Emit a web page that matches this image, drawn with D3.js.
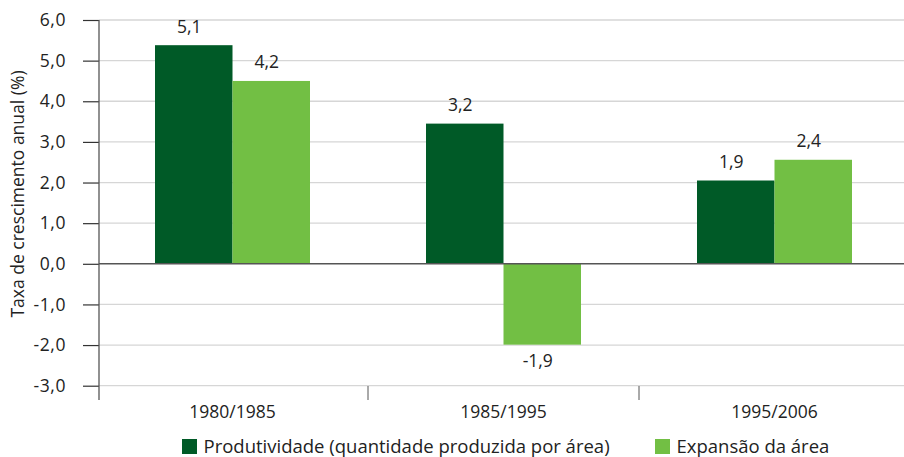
<!DOCTYPE html>
<html><head><meta charset="utf-8">
<script src="https://cdn.jsdelivr.net/npm/d3@7"></script>
<style>body{margin:0;background:#fff}svg{display:block}text{font-family:"Open Sans",sans-serif;fill:#222}</style>
</head><body><svg id="c" width="904" height="457"></svg>
<script>
const categories = ["1980/1985", "1985/1995", "1995/2006"];
const seriesNames = ["Produtividade (quantidade produzida por área)", "Expansão da área"];
const produtividade = [5.38, 3.45, 2.05];
const expansao = [4.50, -1.99, 2.56];
const produtividadeLabels = ["5,1", "3,2", "1,9"];
const expansaoLabels = ["4,2", "-1,9", "2,4"];
const yTicks = [6, 5, 4, 3, 2, 1, 0, -1, -2, -3];
const yTitle = "Taxa de crescimento anual (%)";
const colors = ["#005a27", "#72bf44"];

const svg = d3.select("#c");
const y = d3.scaleLinear().domain([-3, 6]).range([385.7, 20]);
const x = d3.scaleBand().domain(categories).range([97, 910]).paddingInner(0).paddingOuter(0);
const xs = d3.scaleBand().domain([0, 1]).range([0, 155]);
const x0 = 99;

// gridlines
svg.append("g").selectAll("line").data(yTicks.filter(d => d !== 0)).join("line")
  .attr("x1", x0).attr("x2", 904).attr("y1", d => y(d)).attr("y2", d => y(d))
  .attr("stroke", "#d6d6d6").attr("stroke-width", 1.3);

// y axis
const yAxis = d3.axisLeft(y).tickValues(yTicks).tickSize(16).tickPadding(17)
  .tickFormat(d => d3.format(".1f")(d).replace(".", ",").replace("−", "-"));
const gy = svg.append("g").attr("transform", `translate(${x0},0)`).call(yAxis);
gy.select(".domain").remove();
gy.selectAll(".tick line").attr("stroke", "#333").attr("stroke-width", 1.2);
gy.selectAll(".tick text").attr("font-size", 17.5).attr("letter-spacing", 0.6).attr("fill", "#222").attr("font-family", '"Open Sans",sans-serif');
svg.append("line").attr("x1", x0).attr("x2", x0).attr("y1", 20).attr("y2", 400)
  .attr("stroke", "#555").attr("stroke-width", 1.3);

// bars
const groups = categories.map((c, i) => ({c, vals: [produtividade[i], expansao[i]], labels: [produtividadeLabels[i], expansaoLabels[i]]}));
const g = svg.append("g").selectAll("g").data(groups).join("g")
  .attr("transform", d => `translate(${x(d.c) + (x.bandwidth() - 155) / 2},0)`);
g.selectAll("rect").data(d => d.vals.map((v, k) => ({v, k}))).join("rect")
  .attr("x", d => xs(d.k)).attr("width", xs.bandwidth())
  .attr("y", d => y(Math.max(0, d.v))).attr("height", d => Math.abs(y(d.v) - y(0)))
  .attr("fill", d => colors[d.k]);
g.selectAll("text").data(d => d.vals.map((v, k) => ({v, k, l: d.labels[k]}))).join("text")
  .attr("x", d => xs(d.k) + xs.bandwidth() / 2 - 4.5)
  .attr("y", d => d.v >= 0 ? y(d.v) - 12.5 : y(d.v) + 22)
  .attr("text-anchor", "middle").attr("font-size", 17.5).text(d => d.l);

// zero line
svg.append("line").attr("x1", x0).attr("x2", 904).attr("y1", y(0)).attr("y2", y(0))
  .attr("stroke", "#555").attr("stroke-width", 1.5);

// x axis ticks & labels
const xb = svg.append("g");
xb.selectAll("line").data(categories.slice(1)).join("line")
  .attr("x1", d => x(d)).attr("x2", d => x(d)).attr("y1", 386).attr("y2", 400)
  .attr("stroke", "#555").attr("stroke-width", 1);
xb.selectAll("text").data(categories).join("text")
  .attr("x", d => x(d) + x.bandwidth() / 2).attr("y", 418)
  .attr("text-anchor", "middle").attr("font-size", 17.5).text(d => d);

// y title
svg.append("text").attr("transform", `translate(24,194) rotate(-90)`)
  .attr("text-anchor", "middle").attr("font-size", 17.5).text(yTitle);

// legend
const legX = [182, 655];
const lg = svg.append("g").selectAll("g").data(seriesNames).join("g")
  .attr("transform", (d, i) => `translate(${legX[i]},439)`);
lg.append("rect").attr("width", 15).attr("height", 15).attr("fill", (d, i) => colors[i]);
lg.append("text").attr("x", 21.5).attr("y", 14).attr("font-size", 18.5).text(d => d);
</script></body></html>
